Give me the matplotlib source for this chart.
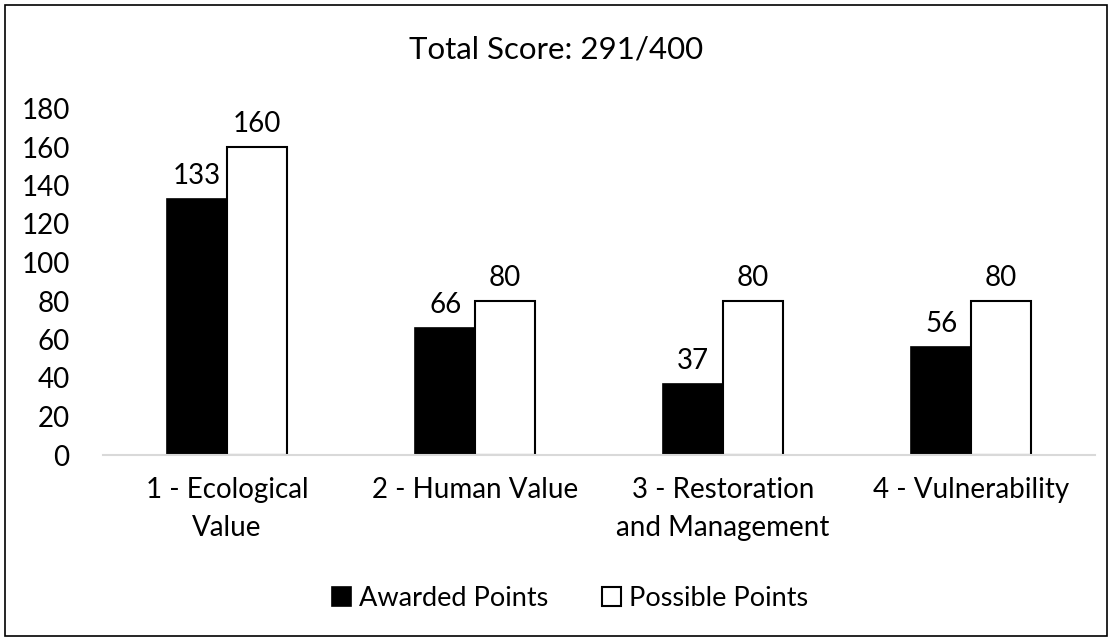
import numpy as np
import matplotlib
matplotlib.use("Agg")
import matplotlib.pyplot as plt
from matplotlib.patches import Rectangle

categories = ["1 - Ecological\nValue", "2 - Human Value",
              "3 - Restoration\nand Management", "4 - Vulnerability"]
awarded = [133, 66, 37, 56]
possible = [160, 80, 80, 80]
title = "Total Score: 291/400"

plt.rcParams["font.family"] = ["Lato", "DejaVu Sans"]

fig = plt.figure(figsize=(11.12, 6.41), dpi=100)
ax = fig.add_axes([103 / 1112, 1 - 455 / 641, 992 / 1112, (455 - 108.5) / 641])

x = np.arange(len(categories))
w = 0.24
b1 = ax.bar(x - w / 2, awarded, w, color="black", edgecolor="black",
            linewidth=1.2, label="Awarded Points", zorder=3)
b2 = ax.bar(x + w / 2, possible, w, color="white", edgecolor="black",
            linewidth=1.5, label="Possible Points", zorder=3)

for bars, vals in ((b1, awarded), (b2, possible)):
    for r, v in zip(bars, vals):
        ax.annotate(str(v), (r.get_x() + r.get_width() / 2, v),
                    xytext=(0, 7), textcoords="offset points",
                    ha="center", va="bottom", fontsize=20)

ax.set_xlim(-0.5, len(categories) - 0.5)
ax.set_ylim(0, 180)
ax.set_yticks(range(0, 181, 20))
ax.set_xticks(x)
ax.set_xticklabels(categories, fontsize=20, linespacing=1.55)
ax.tick_params(axis="y", labelsize=20, length=0, pad=24)
ax.tick_params(axis="x", length=0, pad=16)
for s in ("top", "right", "left"):
    ax.spines[s].set_visible(False)
ax.spines["bottom"].set_color("#d9d9d9")
ax.spines["bottom"].set_linewidth(1.5)
ax.spines["bottom"].set_zorder(4)
for lbl in ax.get_xticklabels():
    lbl.set_verticalalignment("top")

fig.text(556 / 1112, 1 - 50 / 641, title, ha="center", va="center", fontsize=22.5)

fig.legend(handles=[b1, b2], loc="center", bbox_to_anchor=(570 / 1112, 1 - 598 / 641),
           ncol=2, frameon=False, fontsize=19.5, handlelength=0.7, handleheight=0.7,
           handletextpad=0.3, columnspacing=2.0)

fig.patches.append(Rectangle((5 / 1112, 5 / 641), 1102 / 1112, 631 / 641,
                             transform=fig.transFigure, fill=False,
                             edgecolor="black", linewidth=1.2))

fig.savefig("out.png", dpi=100)
